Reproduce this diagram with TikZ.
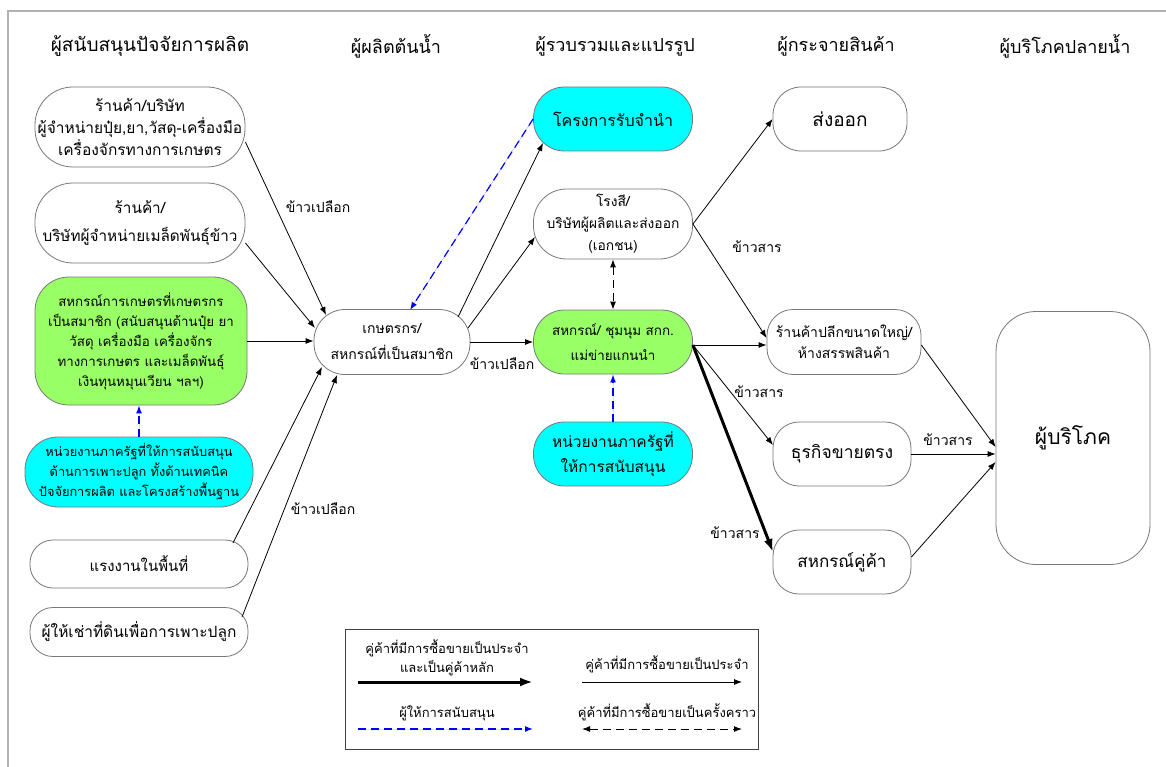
\documentclass[tikz,border=0pt]{standalone}
\usepackage{fontspec}
\setmainfont[Script=Thai]{Loma}
\usetikzlibrary{arrows.meta,calc}
\definecolor{boxgreen}{RGB}{153,255,102}
\definecolor{boxcyan}{RGB}{0,255,255}
\definecolor{edgegray}{RGB}{120,120,120}
\definecolor{supportblue}{RGB}{0,0,255}
\newcommand{\fs}[2]{\fontsize{#1}{#2}\selectfont}
\begin{document}
\begin{tikzpicture}[x=1pt,y=-1pt,
  box/.style={draw=edgegray, line width=0.8pt, rounded corners=#1, align=center,
    inner sep=2pt, fill=white},
  box/.default=30pt,
  hdr/.style={font=\fs{18}{22}},
  lbl/.style={font=\fs{14}{18}, inner sep=1pt},
  lgd/.style={font=\fs{13}{19}, inner sep=1pt, align=center},
  flow/.style={-{Latex[length=8pt,width=6pt]}, line width=0.8pt},
  mainflow/.style={-{Latex[length=13pt,width=9pt]}, line width=3pt},
  support/.style={-{Latex[length=8pt,width=6pt]}, line width=1.2pt, draw=supportblue, fill=supportblue, dash pattern=on 8pt off 5pt},
  occasional/.style={{Latex[length=8pt,width=6pt]}-{Latex[length=8pt,width=6pt]}, line width=1pt, dash pattern=on 8pt off 5pt},
]
\useasboundingbox (0,0) rectangle (1166,767);
\fill[white] (0,0) rectangle (1166,767);
\draw[black!30, line width=1.2pt] (8,767) -- (8,11) -- (1166,11);

% headers
\node[hdr, font=\fs{19}{22}] (h1) at (150,46) {ผู้สนับสนุนปัจจัยการผลิต};
\node[hdr] (h2) at (396,46) {ผู้ผลิตต้นน้ำ};
\node[hdr] (h3) at (615,46) {ผู้รวบรวมและแปรรูป};
\node[hdr] (h4) at (836,46) {ผู้กระจายสินค้า};
\node[hdr] (h5) at (1065,46) {ผู้บริโภคปลายน้ำ};

% column 1
\node[box=38pt, minimum width=210pt, minimum height=80pt, font=\fs{15.5}{22}] (box1) at (140,127)
  {ร้านค้า/บริษัท\\ผู้จำหน่ายปุ๋ย,ยา,วัสดุ-เครื่องมือ\\เครื่องจักรทางการเกษตร};
\node[box=38pt, minimum width=210pt, minimum height=80pt, font=\fs{15.3}{28}] (box2) at (140,223)
  {ร้านค้า/\\บริษัทผู้จำหน่ายเมล็ดพันธุ์ข้าว};
\node[box=34pt, fill=boxgreen, minimum width=212pt, minimum height=128pt, font=\fs{13.3}{20}] (green1) at (141,341)
  {สหกรณ์การเกษตรที่เกษตรกร\\เป็นสมาชิก (สนับสนุนด้านปุ๋ย ยา\\วัสดุ เครื่องมือ เครื่องจักร\\ทางการเกษตร และเมล็ดพันธุ์\\เงินทุนหมุนเวียน ฯลฯ)};
\node[box=33pt, fill=boxcyan, minimum width=228pt, minimum height=70pt, font=\fs{12.8}{20}] (cyan1) at (139,472)
  {หน่วยงานภาครัฐที่ให้การสนับสนุน\\ด้านการเพาะปลูก ทั้งด้านเทคนิค\\ปัจจัยการผลิต และโครงสร้างพื้นฐาน};
\node[box=23pt, minimum width=218pt, minimum height=48pt, font=\fs{15}{20}] (labor) at (139,564) {แรงงานในพื้นที่};
\node[box=23pt, minimum width=218pt, minimum height=49pt, font=\fs{15.5}{20}] (rent) at (139,632) {ผู้ให้เช่าที่ดินเพื่อการเพาะปลูก};

% column 2
\node[box=31pt, minimum width=156pt, minimum height=65pt, font=\fs{14}{26}] (farmer) at (392,342) {เกษตรกร/\\สหกรณ์ที่เป็นสมาชิก};

% column 3
\node[box=31pt, fill=boxcyan, minimum width=159pt, minimum height=64pt, font=\fs{16}{22}] (pledge) at (613,119) {โครงการรับจำนำ};
\node[box=33pt, minimum width=159pt, minimum height=70pt, font=\fs{13.8}{22}] (mill) at (613,224) {โรงสี/\\บริษัทผู้ผลิตและส่งออก\\(เอกชน)};
\node[box=31pt, fill=boxgreen, minimum width=159pt, minimum height=64pt, font=\fs{13.4}{25}] (coop) at (613,342) {สหกรณ์/ ชุมนุม สกก.\\แม่ข่ายแกนนำ};
\node[box=31pt, fill=boxcyan, minimum width=159pt, minimum height=64pt, font=\fs{15.5}{25}] (gov) at (613,454) {หน่วยงานภาครัฐที่\\ให้การสนับสนุน};

% column 4
\node[box=28pt, minimum width=134pt, minimum height=64pt, font=\fs{19}{24}] (export) at (840,119) {ส่งออก};
\node[box=26pt, minimum width=154pt, minimum height=65pt, font=\fs{14}{21}] (retail) at (844,342) {ร้านค้าปลีกขนาดใหญ่/\\ห้างสรรพสินค้า};
\node[box=26pt, minimum width=138pt, minimum height=64pt, font=\fs{17.5}{22}] (direct) at (842,454) {ธุรกิจขายตรง};
\node[box=26pt, minimum width=138pt, minimum height=64pt, font=\fs{17}{22}] (partner) at (842,562) {สหกรณ์คู่ค้า};

% column 5
\node[box=40pt, minimum width=154pt, minimum height=253pt, font=\fs{21}{26}] (consumer) at (1073,438) {ผู้บริโภค};

% edges into farmer
\draw[flow] ($(box1.east)+(0,15)$) -- ($(farmer.center)+(-66,-27)$);
\draw[flow] ($(box2.east)+(0,20)$) -- ($(farmer.center)+(-77,-14)$);
\draw[flow] (green1.east) -- (green1.east -| farmer.west);
\draw[flow] ($(labor.center)+(94,-21)$) -- ($(farmer.center)+(-70,25)$);
\draw[flow] ($(rent.center)+(103,-15)$) -- ($(farmer.center)+(-55,33)$);
\draw[support] (cyan1.north) -- (cyan1.north |- green1.south);

% edges out of farmer
\draw[flow] ($(farmer.center)+(66,-25)$) -- ($(pledge.center)+(-70,24)$);
\draw[flow] ($(farmer.center)+(76,-14)$) -- ($(mill.center)+(-78,13)$);
\draw[flow] (farmer.east) -- (coop.west);
\draw[support] (pledge.west) -- ($(farmer.center)+(18,-32)$);
\draw[occasional] (mill.south) -- (coop.north);
\draw[support] (gov.north) -- (coop.south);

% column 3 -> 4
\draw[flow] (mill.east) -- (export.west);
\draw[flow] (mill.east) -- ($(retail.west)+(0,-4)$);
\draw[flow] ($(coop.east)+(0,3)$) -- ($(retail.west)+(0,3)$);
\draw[flow] ($(coop.east)+(0,3)$) -- ($(direct.center)+(-69,-9)$);
\draw[mainflow] ($(coop.east)+(0,3)$) -- ($(partner.center)+(-69,-10)$);

% column 4 -> 5
\draw[flow] ($(retail.east)+(0,3)$) -- ($(consumer.west)+(0,9)$);
\draw[flow] (direct.east) -- (direct.east -| consumer.west);
\draw[flow] ($(partner.east)+(0,-5)$) -- ($(consumer.west)+(0,24)$);

% edge labels
\node[lbl] (l1) at (318,207) {ข้าวเปลือก};
\node[lbl] (l2) at (323,509) {ข้าวเปลือก};
\node[lbl] (l3) at (502,364) {ข้าวเปลือก};
\node[lbl] (l4) at (757,247) {ข้าวสาร};
\node[lbl] (l5) at (759,392) {ข้าวสาร};
\node[lbl] (l6) at (948,440) {ข้าวสาร};
\node[lbl] (l7) at (735,533) {ข้าวสาร};

% legend
\node[draw=black!75, line width=0.8pt, minimum width=413pt, minimum height=120pt, anchor=north west] (legend) at (345,629) {};
\node[lgd] (lg1) at (447,658) {คู่ค้าที่มีการซื้อขายเป็นประจำ\\และเป็นคู่ค้าหลัก};
\node[lgd] (lg2) at (667,664) {คู่ค้าที่มีการซื้อขายเป็นประจำ};
\node[lgd] (lg3) at (447,713) {ผู้ให้การสนับสนุน};
\node[lgd] (lg4) at (667,712) {คู่ค้าที่มีการซื้อขายเป็นครั้งคราว};
\coordinate (a1) at (358,682); \coordinate (b1) at (533,682);
\coordinate (a2) at (582,682); \coordinate (b2) at (742,682);
\coordinate (a3) at (358,729); \coordinate (b3) at (533,729);
\coordinate (a4) at (582,729); \coordinate (b4) at (742,729);
\draw[mainflow] (a1) -- (b1);
\draw[flow] (a2) -- (b2);
\draw[support] (a3) -- (b3);
\draw[occasional] (a4) -- (b4);
\end{tikzpicture}
\end{document}
